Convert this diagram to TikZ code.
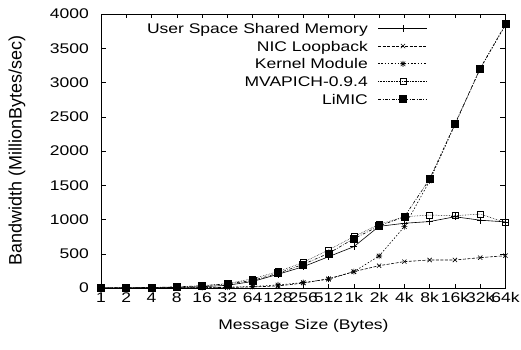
\documentclass[tikz,border=0pt]{standalone}
\usepackage{fontspec}
\setmainfont{Liberation Sans}[FakeStretch=1.25]
\newfontfamily\ylabfont{Liberation Sans}
\usepackage{tikz}
\usetikzlibrary{plotmarks,positioning}

\pgfdeclareplotmark{starx}{%
  \pgfpathmoveto{\pgfqpoint{-\pgfplotmarksize}{0pt}}%
  \pgfpathlineto{\pgfqpoint{\pgfplotmarksize}{0pt}}%
  \pgfpathmoveto{\pgfqpoint{0pt}{-\pgfplotmarksize}}%
  \pgfpathlineto{\pgfqpoint{0pt}{\pgfplotmarksize}}%
  \pgfpathmoveto{\pgfqpoint{-.75\pgfplotmarksize}{-.75\pgfplotmarksize}}%
  \pgfpathlineto{\pgfqpoint{.75\pgfplotmarksize}{.75\pgfplotmarksize}}%
  \pgfpathmoveto{\pgfqpoint{-.75\pgfplotmarksize}{.75\pgfplotmarksize}}%
  \pgfpathlineto{\pgfqpoint{.75\pgfplotmarksize}{-.75\pgfplotmarksize}}%
  \pgfusepathqstroke}

\tikzset{
  shmline/.style={line width=0.6pt, mark=+, mark size=3.5pt},
  nicline/.style={line width=0.6pt, dash pattern=on 3pt off 1.5pt, mark=x, mark size=3pt, mark options={solid}},
  kmline/.style={line width=0.6pt, dash pattern=on 1.5pt off 1.8pt, mark=starx, mark size=3pt, mark options={solid}},
  mvline/.style={line width=0.5pt, dash pattern=on 0.6pt off 1pt, mark=square, mark size=3pt, mark options={solid}},
  limicline/.style={line width=0.6pt, dash pattern=on 3pt off 1.5pt on 0.8pt off 1.5pt, mark=square*, mark size=3.5pt, mark options={solid}},
}

\begin{document}
\begin{tikzpicture}[x=1pt,y=1pt,font=\fontsize{14}{16}\selectfont]
	\useasboundingbox (0,0) rectangle (521,350);
	\begin{scope}[shift={(101,62)}, x=25.28pt, y=0.0685pt]
		% frame and ticks
		\draw[line width=0.8pt] (0,0) rectangle (16,4000);
		\foreach \v in {0,500,...,4000}{
			\draw (0,\v) -- ++(5pt,0);
			\draw (16,\v) -- ++(-5pt,0);
			\node[anchor=east, inner sep=0pt] (ytick\v) at ([xshift=-12pt]0,\v) {\v};
		}
		\foreach \lab [count=\i from 0] in {1,2,4,8,16,32,64,128,256,512,1k,2k,4k,8k,16k,32k,64k}{
			\draw (\i,0) -- ++(0,4pt);
			\draw (\i,4000) -- ++(0,-4pt);
			\node[anchor=base, inner sep=0pt] (xtick\i) at ([yshift=-15pt]\i,0) {\lab};
		}
		% data
		\draw[shmline] plot coordinates {(0,1) (1,2) (2,4) (3,8) (4,18) (5,40) (6,95) (7,200) (8,311) (9,457) (10,603) (11,900) (12,945) (13,970) (14,1040) (15,990) (16,965)};
		\draw[nicline] plot coordinates {(0,0) (1,1) (2,1) (3,2) (4,4) (5,8) (6,15) (7,30) (8,72) (9,135) (10,238) (11,326) (12,385) (13,409) (14,409) (15,443) (16,472)};
		\draw[kmline] plot coordinates {(0,1) (1,1) (2,2) (3,4) (4,6) (5,12) (6,22) (7,44) (8,80) (9,128) (10,238) (11,467) (12,895) (13,1565) (14,2385) (15,3200) (16,3840)};
		\draw[mvline] plot coordinates {(0,2) (1,4) (2,7) (3,15) (4,30) (5,65) (6,135) (7,238) (8,375) (9,555) (10,750) (11,930) (12,1040) (13,1065) (14,1055) (15,1080) (16,955)};
		\draw[limicline] plot coordinates {(0,2) (1,4) (2,8) (3,16) (4,34) (5,60) (6,110) (7,215) (8,345) (9,506) (10,720) (11,905) (12,1040) (13,1591) (14,2394) (15,3207) (16,3850)};
	\end{scope}
	% legend
	\foreach \name/\sty/\txt [count=\i] in {shm/shmline/User Space Shared Memory, nic/nicline/NIC Loopback, km/kmline/Kernel Module, mv/mvline/MVAPICH-0.9.4, lim/limicline/LiMIC}{
		\node[anchor=base east, inner sep=0pt] (lg\name) at (368, 334.45-17.75*\i) {\txt};
		\draw[style=\sty, mark indices={2}] plot coordinates {(378,339.45-17.75*\i) (403,339.45-17.75*\i) (427,339.45-17.75*\i)};
	}
	% axis labels
	\node[anchor=base] (xlab) at (303.5,20) {Message Size (Bytes)};
	\node[rotate=90] (ylab) at (17,199.5) {\ylabfont\fontsize{18}{20}\selectfont Bandwidth (MillionBytes/sec)};
\end{tikzpicture}
\end{document}
